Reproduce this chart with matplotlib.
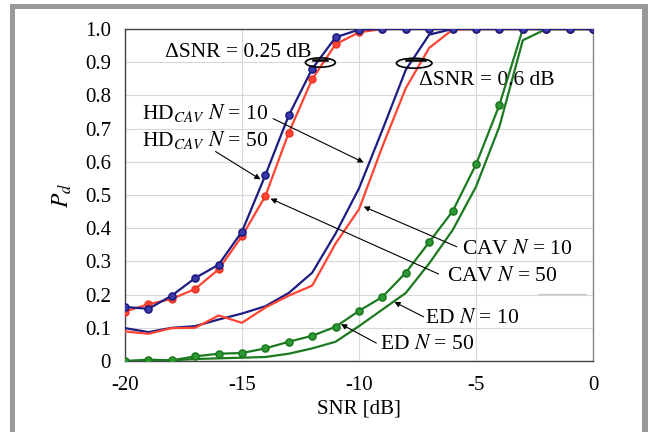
import matplotlib
matplotlib.use("Agg")
import matplotlib.pyplot as plt
from matplotlib.patches import Ellipse, Rectangle
import numpy as np

snr = list(range(-20, 1))

hd_cav_n10 = [0.163, 0.157, 0.197, 0.250, 0.290, 0.390, 0.560, 0.740, 0.880, 0.975, 0.998,
              1.0, 1.0, 1.0, 1.0, 1.0, 1.0, 1.0, 1.0, 1.0, 1.0]
hd_cav_n50 = [0.149, 0.171, 0.187, 0.217, 0.276, 0.376, 0.497, 0.688, 0.849, 0.954, 0.990,
              1.0, 1.0, 1.0, 1.0, 1.0, 1.0, 1.0, 1.0, 1.0, 1.0]
cav_n10 = [0.099, 0.087, 0.100, 0.105, 0.125, 0.143, 0.165, 0.205, 0.266, 0.384, 0.520,
           0.696, 0.877, 0.983, 1.0, 1.0, 1.0, 1.0, 1.0, 1.0, 1.0]
cav_n50 = [0.089, 0.082, 0.099, 0.100, 0.137, 0.115, 0.161, 0.197, 0.227, 0.354, 0.457,
           0.646, 0.822, 0.943, 0.998, 1.0, 1.0, 1.0, 1.0, 1.0, 1.0]
ed_n50 = [0.000, 0.004, 0.002, 0.014, 0.022, 0.024, 0.038, 0.058, 0.076, 0.103, 0.151,
          0.193, 0.266, 0.358, 0.451, 0.592, 0.771, 1.0, 1.0, 1.0, 1.0]
ed_n10 = [0.000, 0.000, 0.002, 0.006, 0.008, 0.010, 0.012, 0.022, 0.038, 0.058, 0.105,
          0.155, 0.205, 0.294, 0.394, 0.525, 0.706, 0.966, 1.0, 1.0, 1.0]

xticks = [-20, -15, -10, -5, 0]
yticks = [0, 0.1, 0.2, 0.3, 0.4, 0.5, 0.6, 0.7, 0.8, 0.9, 1.0]
yticklabels = ["0", "0.1", "0.2", "0.3", "0.4", "0.5", "0.6", "0.7", "0.8", "0.9", "1.0"]

BLUE = "#1c1c82"
RED = "#ff4433"
GREEN = "#1b7a1f"

plt.rcParams['font.family'] = ['Liberation Serif', 'DejaVu Serif']
plt.rcParams['mathtext.fontset'] = 'stix'

fig = plt.figure(figsize=(6.48, 4.32), dpi=100)
fig.patch.set_facecolor('white')

# gray frame
fig.patches.append(Rectangle((10/648, 0), 5/648, 1 - 4/432, transform=fig.transFigure,
                             facecolor='#999999', edgecolor='none'))
fig.patches.append(Rectangle((10/648, 1 - 9/432), (642-10)/648, 5/432, transform=fig.transFigure,
                             facecolor='#999999', edgecolor='none'))
fig.patches.append(Rectangle((642/648, 0), 6/648, 1 - 4/432, transform=fig.transFigure,
                             facecolor='#999999', edgecolor='none'))

ax = fig.add_axes([125/648, 1 - 361/432, (593-125)/648, (361-29)/432])

lw = 1.6
ms = 5
ax.plot(snr, cav_n10, color=BLUE, lw=lw, zorder=3)
ax.plot(snr, cav_n50, color=RED, lw=lw, zorder=3)
ax.plot(snr, ed_n10, color=GREEN, lw=lw, zorder=3)
ax.plot(snr, ed_n50, color=GREEN, lw=lw, marker='o', ms=ms, mfc='#2f9a35', mec=GREEN, mew=1.2, zorder=4)
ax.plot(snr, hd_cav_n50, color=RED, lw=lw, marker='o', ms=ms, mfc=RED, mec='#ee3322', mew=1.0, zorder=4)
ax.plot(snr, hd_cav_n10, color=BLUE, lw=lw, marker='o', ms=ms, mfc='#3a3aa8', mec=BLUE, mew=1.2, zorder=5)

ax.set_xlim(-20, 0)
ax.set_ylim(0, 1.0)
ax.set_xticks(xticks)
ax.set_xticklabels([str(t) for t in xticks])
ax.set_yticks(yticks)
ax.set_yticklabels(yticklabels)
ax.tick_params(axis='y', length=0, labelsize=15, pad=10)
ax.tick_params(axis='x', length=0, labelsize=15, pad=11)
ax.grid(True, color='#d8d8d8', lw=0.8)
ax.set_axisbelow(True)
for s in ['left', 'bottom', 'top']:
    ax.spines[s].set_color('#444444')
    ax.spines[s].set_linewidth(1.0)
ax.spines['right'].set_color('#888888')
ax.spines['right'].set_linewidth(1.0)

ax.set_xlabel('SNR [dB]', fontsize=15, labelpad=3)
ax.set_ylabel(r'$P_d$', fontsize=17, labelpad=8)

fs = 15.5
ax.text(-18.3, 0.928, 'ΔSNR = 0.25 dB', fontsize=fs, va='center', ha='left')
ax.text(-7.45, 0.845, 'ΔSNR = 0.6 dB', fontsize=fs, va='center', ha='left')
ax.text(-19.26, 0.748, r'HD$_{\mathit{CAV}}$ $\mathit{N}$ = 10', fontsize=fs, va='center', ha='left')
ax.text(-19.26, 0.666, r'HD$_{\mathit{CAV}}$ $\mathit{N}$ = 50', fontsize=fs, va='center', ha='left')
ax.text(-5.6, 0.336, r'CAV $\mathit{N}$ = 10', fontsize=fs, va='center', ha='left')
ax.text(-6.24, 0.254, r'CAV $\mathit{N}$ = 50', fontsize=fs, va='center', ha='left')
ax.text(-7.2, 0.128, r'ED $\mathit{N}$ = 10', fontsize=fs, va='center', ha='left')
ax.text(-9.09, 0.050, r'ED $\mathit{N}$ = 50', fontsize=fs, va='center', ha='left')

arrows = [
    ((-13.67, 0.73), (-9.8, 0.598)),
    ((-16.13, 0.631), (-14.21, 0.547)),
    ((-5.82, 0.344), (-9.8, 0.465)),
    ((-6.6, 0.262), (-13.78, 0.489)),
    ((-7.24, 0.133), (-8.49, 0.178)),
    ((-9.26, 0.054), (-10.77, 0.111)),
]
for start, end in arrows:
    ax.annotate('', xy=end, xytext=start,
                arrowprops=dict(arrowstyle='-|>', color='black', lw=0.8,
                                mutation_scale=8, shrinkA=0, shrinkB=0), zorder=6)

ax.add_patch(Ellipse((-11.65, 0.899), 1.28, 0.028, fill=False, ec='black', lw=1.2, zorder=6))
ax.add_patch(Ellipse((-7.64, 0.897), 1.52, 0.030, fill=False, ec='black', lw=1.2, zorder=6))
ax.plot([-11.98, -11.35], [0.907, 0.907], color='black', lw=1.8, zorder=6)
ax.plot([-7.98, -7.2], [0.907, 0.907], color='black', lw=1.8, zorder=6)

ax.plot([-2.33, -0.34], [0.201, 0.201], color='#c8c8c8', lw=1.0, zorder=2)

fig.savefig('out.png', dpi=100, facecolor='white')
